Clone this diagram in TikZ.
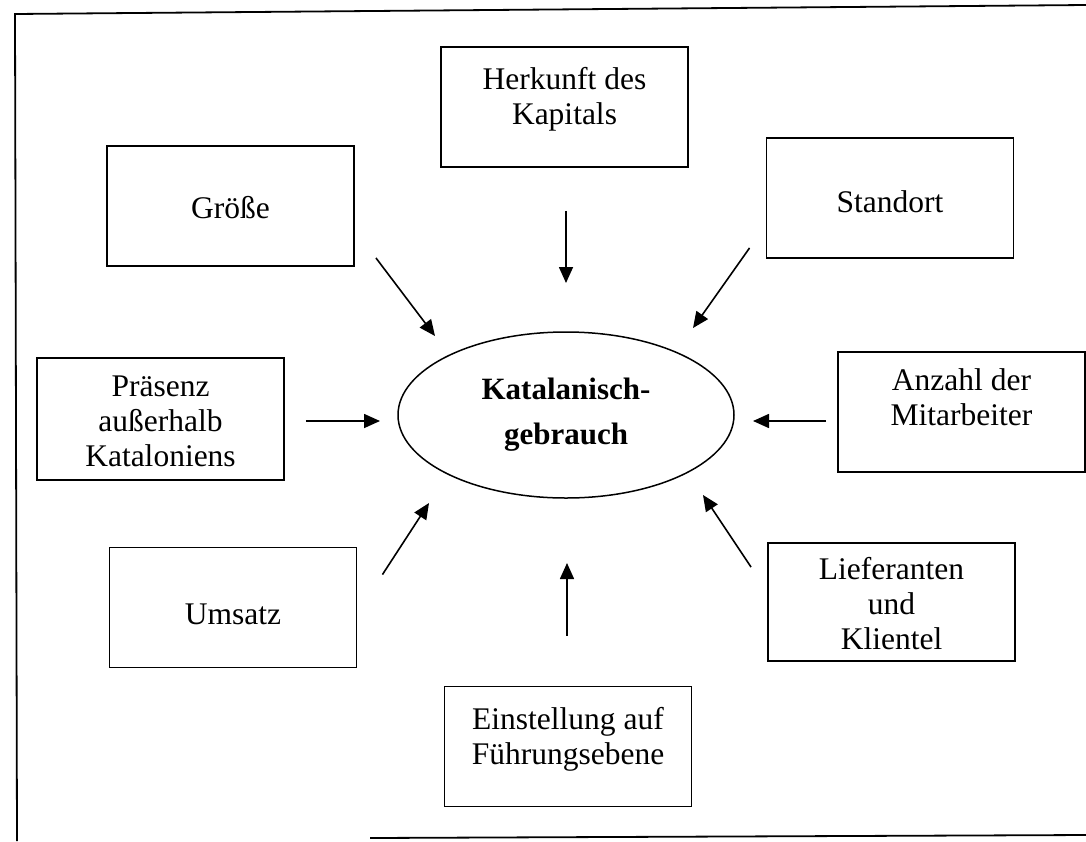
\documentclass[tikz,border=0pt]{standalone}
\usepackage{fontspec}
\setmainfont{Liberation Serif}
\usetikzlibrary{arrows.meta, shapes.geometric}

% text block of a box, lifted by #1 inside its frame
\newcommand{\boxtext}[2]{\raisebox{#1}[\height][\depth]{\begin{tabular}{@{}c@{}}#2\end{tabular}}}

\begin{document}
\begin{tikzpicture}[
  x=1pt, y=-1pt,
  every node/.style = {font=\fontsize{31.5}{35}\selectfont},
  factor/.style = {
    draw, rectangle, line width=1.9pt, inner sep=0pt,
    minimum width=247pt, minimum height=120pt, align=center
  },
  core/.style = {
    draw, ellipse, line width=1.5pt,
    minimum width=336pt, minimum height=166pt, align=center,
    font=\fontsize{31}{45}\selectfont\bfseries
  },
  flow/.style = {-{Triangle[length=16pt, width=14pt]}, line width=1.6pt},
  frame/.style = {line width=1.8pt}
]
\useasboundingbox (0,0) rectangle (1086,841);

% page frame of the scan
\draw[frame] (17,841) -- (15,14) -- (1086,5);
\draw[frame] (370,838) -- (1086,835);

\node[core] (use) at (566,415) {Katalanisch-\\gebrauch};

\node[factor] (capital) at (564.5,107) {\boxtext{7pt}{Herkunft des\\Kapitals}};
\node[factor] (size) at (230.5,206) {\boxtext{-5pt}{Größe}};
\node[factor] (site) at (890,198) {\boxtext{-7pt}{Standort}};
\node[factor, minimum height=122pt] (abroad) at (160.5,419) {\boxtext{-5pt}{Präsenz\\außerhalb\\Kataloniens}};
\node[factor] (staff) at (961.5,412) {\boxtext{11pt}{Anzahl der\\Mitarbeiter}};
\node[factor] (sales) at (233,607.5) {\boxtext{-10pt}{Umsatz}};
\node[factor, minimum height=118pt] (partners) at (891.5,602) {\boxtext{-5pt}{Lieferanten\\und\\Klientel}};
\node[factor] (management) at (568,746.5) {\boxtext{7pt}{Einstellung auf\\Führungsebene}};

\draw[flow] ([shift={(1.5,43)}]capital.south) -- ([shift={(0,-132)}]use.center);
\draw[flow] ([shift={(21,-9)}]size.south east) -- ([shift={(-131,-79)}]use.center);
\draw[flow] ([shift={(-16,-11)}]site.south west) -- ([shift={(127,-87)}]use.center);
\draw[flow] ([shift={(21,2)}]abroad.east) -- ([shift={(-186,6)}]use.center);
\draw[flow] ([shift={(-11,9)}]staff.west) -- ([shift={(187,6)}]use.center);
\draw[flow] ([shift={(25,28)}]sales.north east) -- ([shift={(-137,88)}]use.center);
\draw[flow] ([shift={(-16,25)}]partners.north west) -- ([shift={(137,80)}]use.center);
\draw[flow] ([shift={(-1,-50)}]management.north) -- ([shift={(1,148)}]use.center);

\end{tikzpicture}
\end{document}
